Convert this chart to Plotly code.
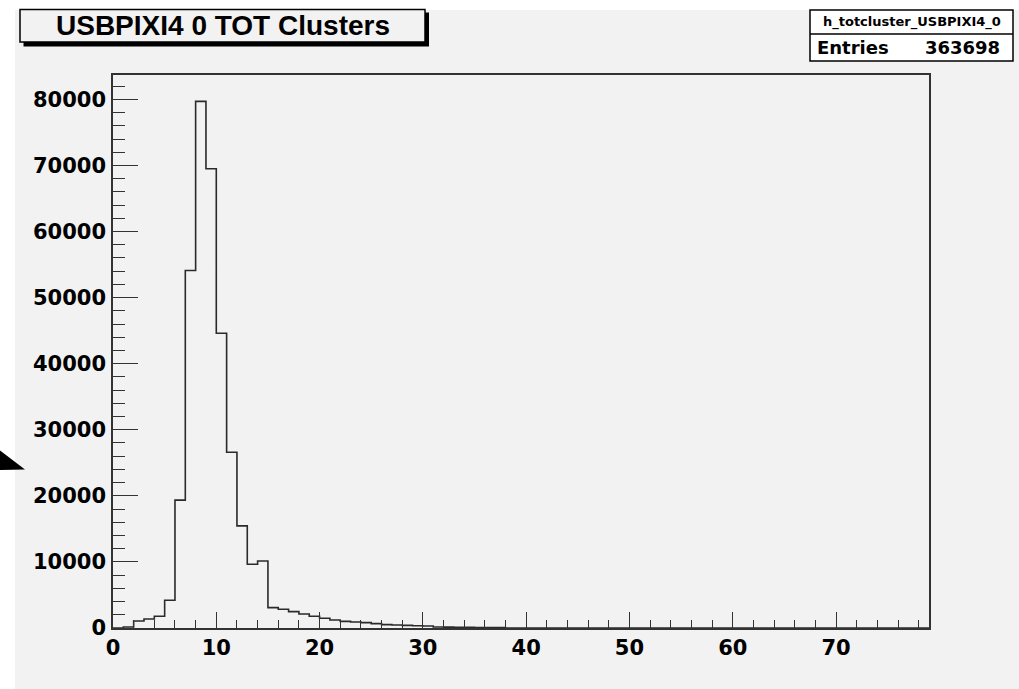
import numpy as np
import plotly.graph_objects as go

# ---- histogram content: TOT cluster sum, unit-width bins from 0 to 79 ----
bin_low = list(range(0, 79))
counts = [
    0, 150, 1060, 1360, 1770, 4200, 19350, 54100, 79700, 69500,
    44600, 26600, 15450, 9650, 10150, 3090, 2830, 2480, 2120, 1770,
    1470, 1210, 1010, 910, 810, 660, 510, 450, 400, 350,
    300, 150, 130, 110, 90, 80, 60, 50,
] + [0] * 41

hist_name = "h_totcluster_USBPIXI4_0"
hist_title = "USBPIXI4 0 TOT Clusters"
entries = 363698

x_ticks = [0, 10, 20, 30, 40, 50, 60, 70]
y_ticks = [0, 10000, 20000, 30000, 40000, 50000, 60000, 70000, 80000]

x_max = 79
y_max = max(counts) * 1.05

W, H = 1019, 689
L, R, T, B = 113, 929, 75, 628  # frame edges in pixels


def px(x):
    return (x - L) / (R - L)


def py(y):
    return (B - y) / (B - T)


# step outline: close the last bin at the upper edge
step_x = bin_low + [bin_low[-1] + 1]
step_y = counts + [counts[-1]]

fig = go.Figure()
fig.add_trace(go.Scatter(
    x=step_x, y=step_y, mode="lines", line_shape="hv",
    line=dict(color="#2a2a2a", width=1.6), hoverinfo="skip",
    showlegend=False,
))

tick_font = dict(family="DejaVu Sans", size=21, color="black")
frame = "#333333"

fig.update_xaxes(
    range=[0, x_max], showgrid=False, zeroline=False,
    showline=True, linecolor=frame, linewidth=1.6, mirror=True,
    tickmode="array", tickvals=x_ticks, ticktext=[f"<b>{v}</b>" for v in x_ticks],
    ticks="inside", ticklen=16, tickwidth=1.4, tickcolor=frame,
    minor=dict(ticks="inside", ticklen=8, dtick=2, tick0=0, tickwidth=1.4, tickcolor=frame),
    tickfont=tick_font, ticklabelstandoff=0,
)
fig.update_yaxes(
    range=[0, y_max], showgrid=False, zeroline=False,
    showline=True, linecolor=frame, linewidth=1.6, mirror=True,
    tickmode="array", tickvals=y_ticks, ticktext=[f"<b>{v}</b>" for v in y_ticks],
    ticks="inside", ticklen=25, tickwidth=1.4, tickcolor=frame,
    minor=dict(ticks="inside", ticklen=12, dtick=2000, tick0=0, tickwidth=1.4, tickcolor=frame),
    tickfont=tick_font, ticklabelstandoff=1,
)

shapes = [
    # canvas
    dict(type="rect", xref="paper", yref="paper", layer="below",
         x0=px(15), x1=px(W + 5), y0=py(10), y1=py(H + 5),
         fillcolor="#f2f2f2", line=dict(width=0)),
    # title box with drop shadow
    dict(type="rect", xref="paper", yref="paper",
         x0=px(23.5), x1=px(429), y0=py(12.5), y1=py(46.5),
         fillcolor="black", line=dict(width=0)),
    dict(type="rect", xref="paper", yref="paper",
         x0=px(20), x1=px(425), y0=py(9.5), y1=py(42),
         fillcolor="#f2f2f2", line=dict(color="black", width=1.5)),
    # stats box
    dict(type="rect", xref="paper", yref="paper",
         x0=px(810), x1=px(1013), y0=py(10), y1=py(61),
         fillcolor="white", line=dict(color="black", width=1.5)),
    dict(type="line", xref="paper", yref="paper",
         x0=px(810), x1=px(1013), y0=py(34), y1=py(34),
         line=dict(color="black", width=1.5)),
    # arrow head at the left edge
    dict(type="path", xref="paper", yref="paper",
         path=f"M {px(-2)},{py(449)} L {px(25)},{py(469.5)} L {px(-2)},{py(470)} Z",
         fillcolor="black", line=dict(width=0)),
]

annotations = [
    dict(xref="paper", yref="paper", x=px(222.5), y=py(26), text=f"<b>{hist_title}</b>",
         showarrow=False, xanchor="center", yanchor="middle",
         font=dict(family="Liberation Sans", size=28, color="black")),
    dict(xref="paper", yref="paper", x=px(911.5), y=py(22), text=f"<b>{hist_name}</b>",
         showarrow=False, xanchor="center", yanchor="middle",
         font=dict(family="DejaVu Sans", size=13, color="black")),
    dict(xref="paper", yref="paper", x=px(815), y=py(47.5), text="<b>Entries</b>",
         showarrow=False, xanchor="left", yanchor="middle",
         font=dict(family="DejaVu Sans", size=18, color="black")),
    dict(xref="paper", yref="paper", x=px(1002), y=py(47.5), text=f"<b>{entries}</b>",
         showarrow=False, xanchor="right", yanchor="middle",
         font=dict(family="DejaVu Sans", size=18, color="black")),
]

fig.update_layout(
    width=W, height=H,
    margin=dict(l=L, r=W - R, t=T, b=H - B, pad=0),
    paper_bgcolor="white", plot_bgcolor="#f2f2f2",
    shapes=shapes, annotations=annotations,
    showlegend=False,
)

fig.write_html("out.html")
